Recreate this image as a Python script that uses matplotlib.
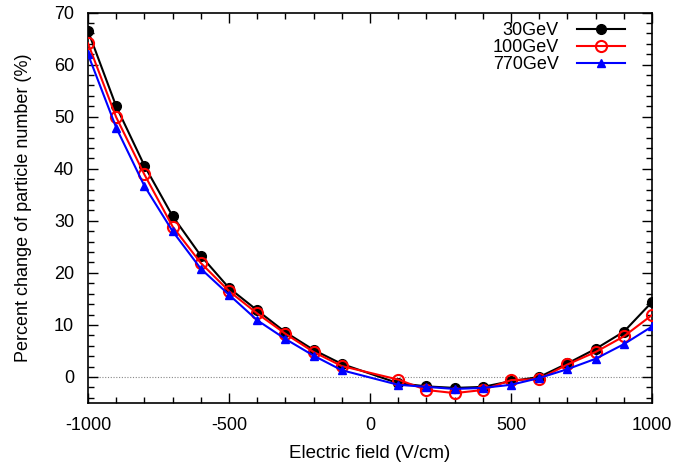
import matplotlib
matplotlib.use("Agg")
import matplotlib.pyplot as plt
from matplotlib.ticker import MultipleLocator

plt.rcParams['font.family'] = ['Liberation Sans', 'DejaVu Sans']
plt.rcParams['axes.unicode_minus'] = False

field = [-1000, -900, -800, -700, -600, -500, -400, -300, -200, -100,
         100, 200, 300, 400, 500, 600, 700, 800, 900, 1000]
gev30 = [66.5, 52.0, 40.6, 30.9, 23.3, 17.1, 12.8, 8.6, 5.2, 2.5,
         -1.2, -1.8, -2.1, -1.9, -0.8, 0.0, 2.6, 5.4, 8.7, 14.4]
gev100 = [64.1, 49.9, 38.9, 28.9, 21.9, 16.5, 12.2, 8.3, 4.8, 2.1,
          -0.5, -2.5, -3.1, -2.5, -0.6, -0.4, 2.4, 4.8, 7.8, 11.9]
gev770 = [62.0, 47.9, 36.7, 28.0, 20.8, 15.8, 10.9, 7.3, 4.1, 1.3,
          -1.5, -1.9, -2.3, -2.1, -1.5, -0.2, 1.5, 3.5, 6.3, 9.7]
labels = ["30GeV", "100GeV", "770GeV"]

fig = plt.figure(figsize=(6.9, 4.65), dpi=100)
ax = fig.add_axes([0.1275, 0.1333, 0.8175, 0.8397])

ax.axhline(0, color='#888888', lw=0.8, ls=(0, (1, 1.5)), zorder=1)

ax.plot(field, gev30, color='black', lw=1.5, marker='o', ms=7,
        mfc='black', mec='black', label=labels[0], zorder=3)
ax.plot(field, gev100, color='red', lw=1.5, marker='o', ms=8,
        mfc='none', mec='red', mew=1.5, label=labels[1], zorder=4)
ax.plot(field, gev770, color='blue', lw=1.5, marker='^', ms=6,
        mfc='blue', mec='blue', label=labels[2], zorder=5)

ax.set_xlim(-1000, 1000)
ax.set_ylim(-5, 70)
ax.xaxis.set_major_locator(MultipleLocator(500))
ax.xaxis.set_minor_locator(MultipleLocator(100))
ax.yaxis.set_major_locator(MultipleLocator(10))
ax.yaxis.set_minor_locator(MultipleLocator(2))
ax.tick_params(which='both', direction='in', top=True, right=True,
               labelsize=13, width=1.0)
ax.tick_params(which='major', length=7)
ax.tick_params(axis='x', which='major', pad=10)
ax.tick_params(axis='y', which='major', pad=10)
ax.tick_params(which='minor', length=4)
for s in ax.spines.values():
    s.set_linewidth(1.2)

ax.set_xlabel("Electric field (V/cm)", fontsize=13.5, labelpad=8)
ax.set_ylabel("Percent change of particle number (%)", fontsize=13, labelpad=16)

leg = ax.legend(loc='upper right', frameon=False, markerfirst=False,
                fontsize=13, handlelength=2.7, handletextpad=1.0,
                labelspacing=0.0, borderaxespad=0.3,
                bbox_to_anchor=(0.975, 1.008))
for t in leg.get_texts():
    t.set_ha('right')

fig.savefig("out.png", dpi=100)
